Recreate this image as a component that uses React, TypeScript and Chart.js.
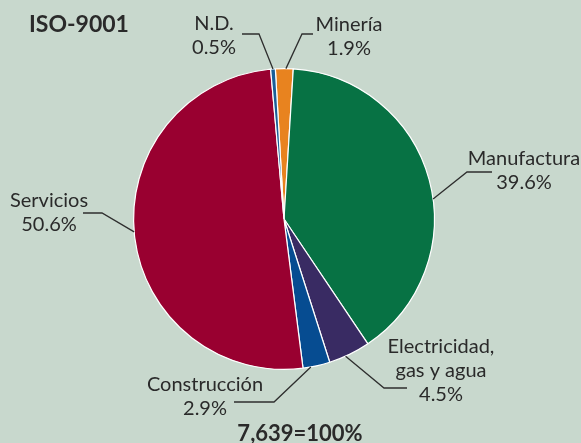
import React, { useEffect, useRef } from "react";
import { Chart, registerables } from "chart.js";

Chart.register(...registerables);

const categories = ["Minería", "Manufactura", "Electricidad, gas y agua", "Construcción", "Servicios", "N.D."];
const shares = [1.9, 39.6, 4.5, 2.9, 50.6, 0.5];
const valueLabels = ["1.9%", "39.6%", "4.5%", "2.9%", "50.6%", "0.5%"];
const labelLines = [["Minería"], ["Manufactura"], ["Electricidad,", "gas y agua"], ["Construcción"], ["Servicios"], ["N.D."]];
const colors = ["#e8831f", "#077244", "#392b63", "#064c91", "#990030", "#1a5f98"];
const title = "ISO-9001";
const totalLabel = "7,639=100%";

// annotation layout (label centre x, first baseline y, leader touch fraction, elbow, end)
const labelLayout = [
  { cx: 349, y: 31, frac: 0.59, elbow: [302, 34], end: [313, 34] },
  { cx: 524, y: 165, frac: 0.553, elbow: [467, 172], end: [492, 172] },
  { cx: 441, y: 353, frac: 0.6, elbow: [384, 388], end: [407, 388] },
  { cx: 205, y: 391, frac: 0.71, elbow: [274, 402], end: [234, 402] },
  { cx: 49, y: 207, frac: 0.507, elbow: [102, 213], end: [83, 213] },
  { cx: 214, y: 30, frac: 0.5, elbow: [259, 34], end: [242, 34] },
];

const FONT = "Lato, 'Open Sans', sans-serif";
const TEXT = "#2a2a2a";
const BG = "#c8d8cd";

const labelPlugin = {
  id: "pieLabels",
  afterDraw(chart: any) {
    const ctx = chart.ctx;
    const meta = chart.getDatasetMeta(0);
    ctx.save();
    ctx.strokeStyle = "#2e2e2e";
    ctx.lineWidth = 1.3;
    ctx.fillStyle = TEXT;
    ctx.textAlign = "center";
    ctx.textBaseline = "alphabetic";
    meta.data.forEach((arc: any, i: number) => {
      const L = labelLayout[i];
      const { x, y, startAngle, endAngle, outerRadius } = arc.getProps(["x", "y", "startAngle", "endAngle", "outerRadius"], true);
      const a = startAngle + (endAngle - startAngle) * L.frac;
      const px = x + Math.cos(a) * outerRadius;
      const py = y + Math.sin(a) * outerRadius;
      ctx.beginPath();
      ctx.moveTo(px, py);
      ctx.lineTo(L.elbow[0], L.elbow[1]);
      ctx.lineTo(L.end[0], L.end[1]);
      ctx.stroke();
      ctx.font = `20px ${FONT}`;
      const lines = [...labelLines[i], valueLabels[i]];
      lines.forEach((t, k) => {
        ctx.fillText(t, L.cx, L.y + k * 23.8);
      });
    });
    ctx.textAlign = "left";
    ctx.font = `bold 23px ${FONT}`;
    ctx.fillText(title, 29, 32);
    ctx.textAlign = "center";
    ctx.font = `bold 22px ${FONT}`;
    ctx.fillText(totalLabel, 300, 441);
    ctx.restore();
  },
};

export default function App() {
  const ref = useRef<HTMLCanvasElement>(null);
  useEffect(() => {
    document.body.style.margin = "0";
    const chart = new Chart(ref.current!, {
      type: "pie",
      data: {
        labels: categories,
        datasets: [
          {
            data: shares,
            backgroundColor: colors,
            borderColor: "#ffffff",
            borderWidth: 1.2,
          },
        ],
      },
      options: {
        animation: false,
        responsive: false,
        rotation: -3.3,
        layout: { padding: { top: 68, bottom: 73, left: 133, right: 146 } },
        plugins: { legend: { display: false }, tooltip: { enabled: false } },
      },
      plugins: [labelPlugin],
    });
    return () => chart.destroy();
  }, []);
  return (
    <div style={{ position: "fixed", left: 0, top: 0, width: 581, height: 443, background: BG }}>
      <canvas ref={ref} width={581} height={443} style={{ width: 581, height: 443 }} />
    </div>
  );
}
